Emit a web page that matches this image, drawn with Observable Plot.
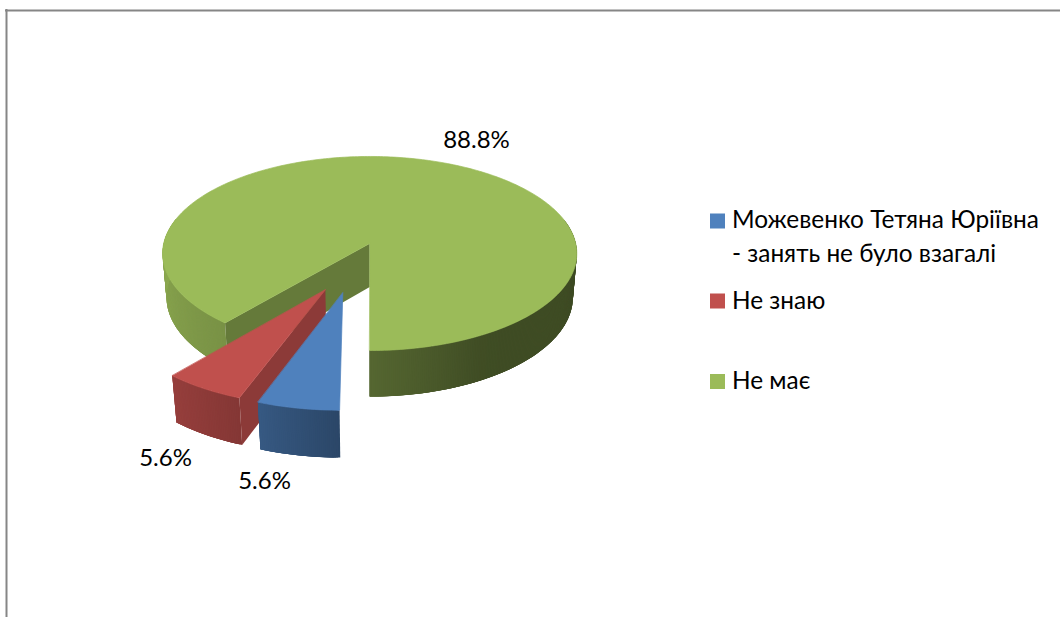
<!DOCTYPE html>
<html>
<head>
<meta charset="utf-8">
<script src="https://cdn.jsdelivr.net/npm/d3@7"></script>
<script src="https://cdn.jsdelivr.net/npm/@observablehq/plot@0.6"></script>
<style>
html,body{margin:0;padding:0;background:#fff;overflow:hidden}
svg{display:block}
</style>
</head>
<body>
<div id="chart"></div>
<script>
// ---- chart values ----
const categories = ["Можевенко Тетяна Юріївна", "Не знаю", "Не має"];
const legendLines = [["Можевенко Тетяна Юріївна", "- занять не було взагалі"], ["Не знаю"], ["Не має"]];
const shares = [5.6, 5.6, 88.8];
const colors = ["#4F81BD", "#C0504D", "#9BBB59"];
const firstSliceAngle = 180;

// ---- layout (pie camera and placement, not data) ----
const explode = [[-0.124, 0.488], [-0.205, 0.4595], [0, 0]];
const radiusScale = [0.985, 0.98, 1];
const wallShade = [null, 0.73, 0.65];
const cx = 369.2, cy = 243, a = 206.0, b = 96, k = 0.103, d = 44.2, m = 0.019;
const labelPos = [[264, 481], [165, 458], [476, 140]];
const legendRowY = [[220, 254], [301], [381]];
const swatchY = [213.5, 293.5, 374];
const font = "Lato, Carlito, 'Open Sans', sans-serif";

const rad = t => t * Math.PI / 180;
function project(u, v, z) {
  const w = 1 - k * v + m * z;
  return {x: cx + a * u / w, y: cy + (b * v + d * z) / w};
}
const shadeAt = d3.scaleLinear()
  .domain([90, 150, 180, 200, 220, 270, 285])
  .range([0.40, 0.41, 0.55, 0.69, 0.78, 0.90, 0.90]).clamp(true);
function tint(hex, f) {
  const c = d3.rgb(hex);
  return d3.rgb(c.r * f, c.g * f, c.b * f).formatHex();
}

let acc = firstSliceAngle;
const slices = shares.map((s, i) => {
  const start = acc, end = acc + s * 3.6 * 100 / d3.sum(shares);
  acc = end;
  return {i, start, end, color: colors[i], ox: explode[i][0], oy: explode[i][1], r: radiusScale[i]};
});
function rimPoint(sl, t, z) {
  return project(sl.ox + sl.r * Math.sin(rad(t)), sl.oy - sl.r * Math.cos(rad(t)), z);
}
function arcAngles(s, e, step = 1) {
  const out = [];
  for (let t = s; t < e; t += step) out.push(t);
  out.push(e);
  return out;
}
function topPoly(sl) {
  const pts = [project(sl.ox, sl.oy, 0), ...arcAngles(sl.start, sl.end).map(t => rimPoint(sl, t, 0))];
  return pts.map(p => ({...p, id: "top" + sl.i, color: sl.color}));
}
// Wall as overlapping quads: each is painted over the last, so no seams show.
function rimStrips(sl, ranges) {
  const out = [];
  for (const [rs, re] of ranges) {
    const ts = arcAngles(rs, re, 0.5);
    for (let j = 0; j + 1 < ts.length; j++) {
      const t0 = ts[j], t1 = Math.min(re, ts[j] + 2);
      const norm = ((t0 % 360) + 360) % 360;
      const color = tint(sl.color, shadeAt(norm));
      const id = `rim${sl.i}-${rs}-${j}`;
      for (const p of [rimPoint(sl, t0, 0), rimPoint(sl, t1, 0), rimPoint(sl, t1, 1), rimPoint(sl, t0, 1)])
        out.push({...p, id, color});
    }
  }
  return out;
}
function wall(sl, t) {
  const color = tint(sl.color, wallShade[sl.i]);
  const id = "wall" + sl.i;
  return [project(sl.ox, sl.oy, 0), rimPoint(sl, t, 0), rimPoint(sl, t, 1), project(sl.ox, sl.oy, 1)]
    .map(p => ({...p, id, color}));
}

const [blue, red, green] = slices;
const poly = data => Plot.line(data, {
  x: "x", y: "y", z: "id", fill: "color", stroke: "none", curve: "linear-closed"
});
const topFace = sl => Plot.line(topPoly(sl), {
  x: "x", y: "y", z: "id", fill: "color", stroke: "color", strokeWidth: 0.7, curve: "linear-closed"
});

const plot = Plot.plot({
  width: 1060, height: 617,
  margin: 0,
  x: {domain: [0, 1060], range: [0, 1060], axis: null},
  y: {domain: [0, 617], range: [0, 617], axis: null},
  color: {type: "identity"},
  style: {background: "#fff", fontFamily: font},
  marks: [
    // chart frame
    Plot.ruleY([10], {x1: 5, x2: 1060, stroke: "#868686", strokeWidth: 2}),
    Plot.ruleX([6], {y1: 9, y2: 617, stroke: "#868686", strokeWidth: 2}),
    // green slice
    poly(rimStrips(green, [[green.start, 285], [435, green.end]])),
    poly(wall(green, green.start)),
    topFace(green),
    // red slice
    poly(rimStrips(red, [[red.start, red.end]])),
    poly(wall(red, red.start)),
    topFace(red),
    // blue slice
    poly(rimStrips(blue, [[blue.start, blue.end]])),
    topFace(blue),
    // value labels
    Plot.text(shares.map((s, i) => ({t: d3.format(".1f")(s) + "%", x: labelPos[i][0], y: labelPos[i][1]})), {
      x: "x", y: "y", text: "t", fontSize: 24, fill: "#000", textAnchor: "middle", lineAnchor: "middle"
    }),
    // legend
    Plot.rect(categories.map((c, i) => ({i})), {
      x1: () => 710, x2: () => 725,
      y1: d => swatchY[d.i], y2: d => swatchY[d.i] + 15,
      fill: d => colors[d.i]
    }),
    Plot.text(legendLines.flatMap((ls, i) => ls.map((t, j) => ({t, x: 731.5, y: legendRowY[i][j]}))), {
      x: "x", y: "y", text: "t", fontSize: 24.4, fill: "#000", textAnchor: "start", lineAnchor: "middle"
    })
  ]
});
document.getElementById("chart").appendChild(plot);
</script>
</body>
</html>
